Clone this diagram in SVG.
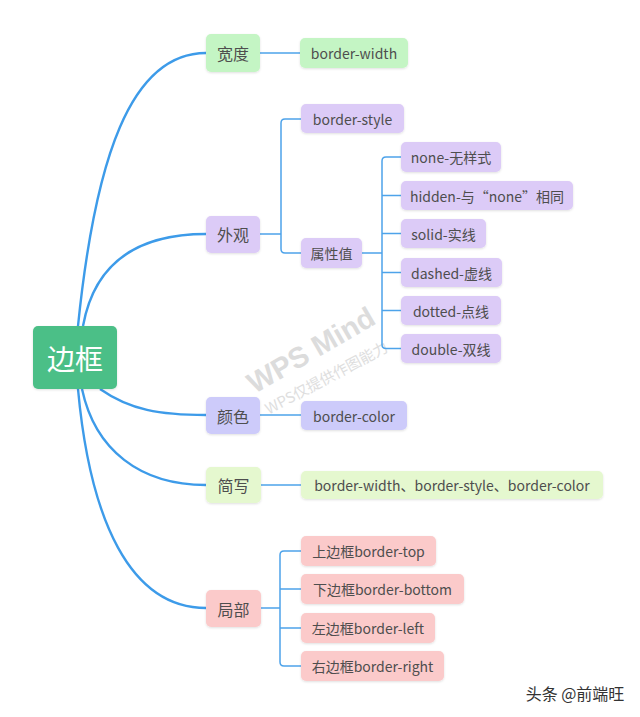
<svg xmlns="http://www.w3.org/2000/svg" width="640" height="717" viewBox="0 0 640 717">
<defs>
<filter id="sh" x="-10%" y="-10%" width="120%" height="130%">
<feDropShadow dx="0" dy="1" stdDeviation="0.8" flood-color="#000" flood-opacity="0.12"/>
</filter>
<style>
text{font-family:"Noto Sans CJK SC","Noto Sans",sans-serif;text-anchor:middle;dominant-baseline:central;fill:#4e4e4e}
.n rect{filter:url(#sh)}
.l1 text{font-size:16px}
.l2 text{font-size:14px}
.main{fill:none;stroke:#3d9be9;stroke-width:2.4}
.sub{fill:none;stroke:#4da3ea;stroke-width:1.5}
.g{fill:#c4f5c4}.p{fill:#dccbf7}.b{fill:#cdcbfa}.y{fill:#e5f8cf}.r{fill:#fbcaca}
</style>
</defs>
<rect width="640" height="717" fill="#fff"/>
<g id="watermark">
<text x="311" y="350" transform="rotate(-30 311 350)" style="font-size:29px;font-weight:bold;fill:#dcdcdc;font-family:'Liberation Sans',sans-serif">WPS Mind</text>
<text x="326" y="377" transform="rotate(-28 326 377)" style="font-size:15px;fill:#dedede">WPS仅提供作图能力</text>
</g>
<g id="connectors">
<path class="main" d="M78,326 C95,160 130,53 206,53"/>
<path class="main" d="M83,326 C95,260 140,234 206,234"/>
<path class="main" d="M100,389 C130,410 160,415 206,415"/>
<path class="main" d="M82,389 C95,450 140,485 206,485"/>
<path class="main" d="M78,389 C90,520 130,608 206,608"/>
<path class="sub" d="M260,53 H301"/>
<path class="sub" d="M260,234 H281 M301,119 H285 Q281,119 281,123 V249 Q281,253 285,253 H301"/>
<path class="sub" d="M362,253 H382 M401,157 H386 Q382,157 382,161 V344.5 Q382,348.5 386,348.5 H401 M382,195.5 H401 M382,233.5 H401 M382,272.5 H401 M382,310.5 H401"/>
<path class="sub" d="M260,415 H301"/>
<path class="sub" d="M261,485 H301"/>
<path class="sub" d="M261,608 H280 M301,551 H284 Q280,551 280,555 V662 Q280,666 284,666 H301 M280,589 H301 M280,628 H301"/>
</g>
<g id="root" class="n"><rect x="33" y="326" width="84" height="63" rx="5" fill="#4cbf87"/><text x="75" y="358" style="font-size:28px;fill:#fff">边框</text></g>
<g id="kuandu" class="n l1"><rect class="g" x="206" y="34" width="54" height="38" rx="5"/><text x="233" y="53">宽度</text></g>
<g id="waiguan" class="n l1"><rect class="p" x="206" y="216" width="54" height="37" rx="5"/><text x="233" y="234">外观</text></g>
<g id="yanse" class="n l1"><rect class="b" x="206" y="397" width="54" height="37" rx="5"/><text x="233" y="415.5">颜色</text></g>
<g id="jianxie" class="n l1"><rect class="y" x="206" y="467" width="55" height="36" rx="5"/><text x="233.5" y="485">简写</text></g>
<g id="jubu" class="n l1"><rect class="r" x="206" y="590" width="55" height="37" rx="5"/><text x="233.5" y="608.5">局部</text></g>
<g id="border-width" class="n l2"><rect class="g" x="300" y="38" width="108" height="30" rx="5"/><text x="354" y="53">border-width</text></g>
<g id="border-style" class="n l2"><rect class="p" x="301" y="104" width="103" height="29" rx="5"/><text x="352.5" y="118.5">border-style</text></g>
<g id="shuxingzhi" class="n l2"><rect class="p" x="301" y="238" width="61" height="30" rx="5"/><text x="331.5" y="253">属性值</text></g>
<g id="none" class="n l2"><rect class="p" x="401" y="142" width="100" height="30" rx="5"/><text x="451" y="157">none-无样式</text></g>
<g id="hidden" class="n l2"><rect class="p" x="401" y="181" width="172" height="29" rx="5"/><text x="487" y="195.5">hidden-与“none”相同</text></g>
<g id="solid" class="n l2"><rect class="p" x="401" y="219" width="85" height="29" rx="5"/><text x="443.5" y="233.5">solid-实线</text></g>
<g id="dashed" class="n l2"><rect class="p" x="401" y="258" width="101" height="29" rx="5"/><text x="451.5" y="272.5">dashed-虚线</text></g>
<g id="dotted" class="n l2"><rect class="p" x="401" y="296" width="100" height="29" rx="5"/><text x="451" y="310.5">dotted-点线</text></g>
<g id="double" class="n l2"><rect class="p" x="401" y="334" width="100" height="29" rx="5"/><text x="451" y="348.5">double-双线</text></g>
<g id="border-color" class="n l2"><rect class="b" x="301" y="401" width="106" height="29" rx="5"/><text x="354" y="415.5">border-color</text></g>
<g id="shorthand" class="n l2"><rect class="y" x="301" y="471" width="302" height="28" rx="5"/><text x="452" y="485">border-width、border-style、border-color</text></g>
<g id="top" class="n l2"><rect class="r" x="301" y="536" width="135" height="30" rx="5"/><text x="368.5" y="551">上边框border-top</text></g>
<g id="bottom" class="n l2"><rect class="r" x="301" y="574" width="163" height="30" rx="5"/><text x="382.5" y="589">下边框border-bottom</text></g>
<g id="left" class="n l2"><rect class="r" x="301" y="613" width="134" height="30" rx="5"/><text x="368" y="628">左边框border-left</text></g>
<g id="right" class="n l2"><rect class="r" x="301" y="651" width="143" height="30" rx="5"/><text x="372.5" y="666">右边框border-right</text></g>
<text x="575" y="693" style="font-size:16px;fill:#333">头条 @前端旺</text>
</svg>
